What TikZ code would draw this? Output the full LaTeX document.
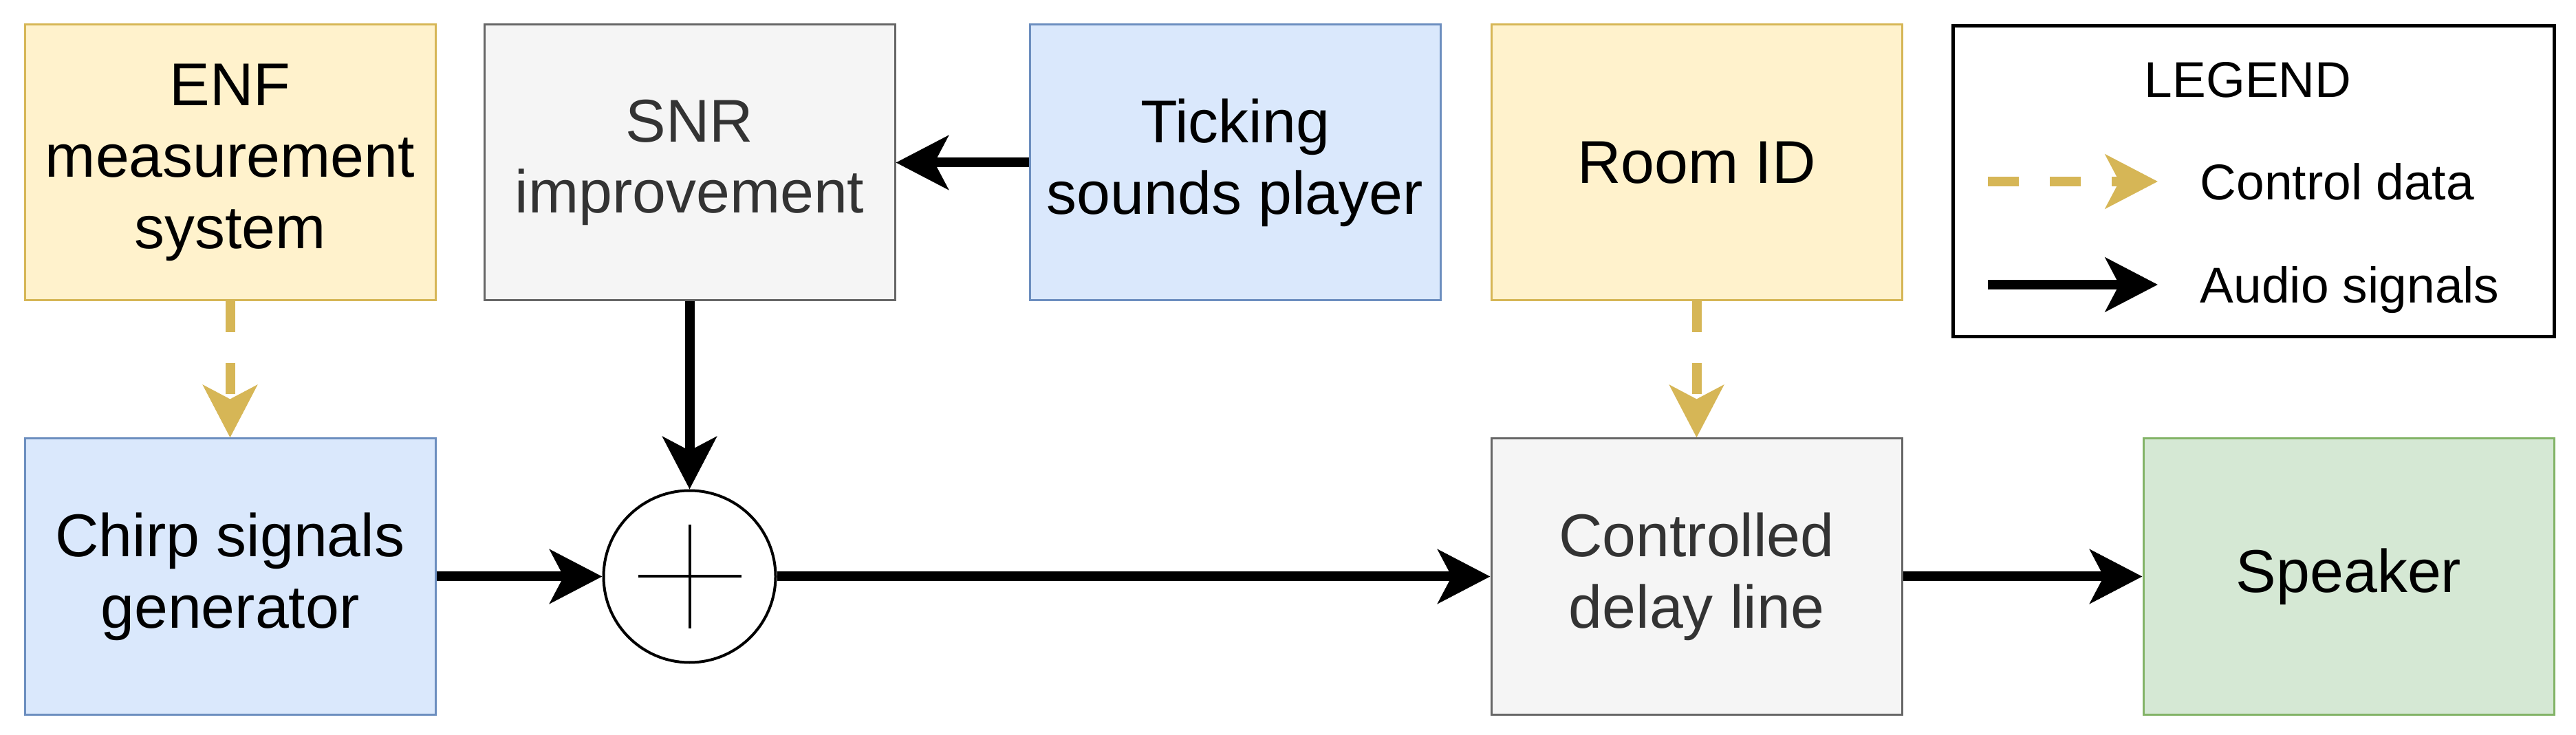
\documentclass[tikz,border=0pt]{standalone}
\usepackage{fontspec}
\setmainfont{Liberation Sans}
\usetikzlibrary{arrows.meta}
\definecolor{yelfill}{HTML}{FFF2CC}
\definecolor{yeldraw}{HTML}{D6B656}
\definecolor{bluefill}{HTML}{DAE8FC}
\definecolor{bluedraw}{HTML}{6C8EBF}
\definecolor{grayfill}{HTML}{F5F5F5}
\definecolor{graydraw}{HTML}{666666}
\definecolor{graytext}{HTML}{333333}
\definecolor{greenfill}{HTML}{D5E8D4}
\definecolor{greendraw}{HTML}{82B366}
\begin{document}
\begin{tikzpicture}[
  box/.style={draw, line width=0.03cm, minimum width=5.97cm, minimum height=4.01cm,
    align=center, inner sep=0pt, font=\fontsize{25}{29.5}\selectfont},
  ctrlbox/.style={box, fill=yelfill, draw=yeldraw},
  srcbox/.style={box, fill=bluefill, draw=bluedraw},
  procbox/.style={box, fill=grayfill, draw=graydraw, text=graytext},
  outbox/.style={box, fill=greenfill, draw=greendraw},
  audio/.style={line width=0.14cm, -{Stealth[length=0.76cm, width=0.78cm, inset=0.2cm]}},
  ctrl/.style={audio, color=yeldraw, dash pattern=on 0.45cm off 0.45cm},
  legtext/.style={inner sep=0pt, font=\fontsize{20.8}{24}\selectfont}
]
\useasboundingbox (0,0) rectangle (37.45,-10.69);
\node[ctrlbox] (enf) at (3.345,-2.365) {ENF\\measurement\\system};
\node[procbox] (snr) at (10.025,-2.365) {SNR\\improvement};
\node[srcbox] (tick) at (17.955,-2.365) {Ticking\\sounds player};
\node[ctrlbox] (room) at (24.665,-2.365) {Room ID};
\node[srcbox] (chirp) at (3.345,-8.385) {Chirp signals\\generator};
\node[draw, circle, line width=0.04cm, minimum size=2.5cm, inner sep=0pt] (sum) at (10.025,-8.385) {};
\node[procbox] (delay) at (24.665,-8.385) {Controlled\\delay line};
\node[outbox] (spk) at (34.145,-8.385) {Speaker};
\draw[line width=0.04cm] ([xshift=-0.75cm]sum.center) -- ([xshift=0.75cm]sum.center);
\draw[line width=0.04cm] ([yshift=-0.75cm]sum.center) -- ([yshift=0.75cm]sum.center);
\draw[ctrl] (enf) -- (chirp);
\draw[ctrl] (room) -- (delay);
\draw[audio] (tick) -- (snr);
\draw[audio] (snr) -- (sum);
\draw[audio] (chirp) -- (sum);
\draw[audio] (sum) -- (delay);
\draw[audio] (delay) -- (spk);
\node[draw, line width=0.05cm, minimum width=8.74cm, minimum height=4.52cm] (legend) at (32.76,-2.64) {};
\node[legtext, anchor=base] (legtitle) at (32.68,-1.42) {LEGEND};
\coordinate (ctrlA) at (28.9,-2.64);
\coordinate (ctrlB) at (31.37,-2.64);
\coordinate (audioA) at (28.9,-4.14);
\coordinate (audioB) at (31.37,-4.14);
\draw[ctrl] (ctrlA) -- (ctrlB);
\draw[audio] (audioA) -- (audioB);
\node[legtext, anchor=base west] (ctrllabel) at (31.98,-2.91) {Control data};
\node[legtext, anchor=base west] (audiolabel) at (31.98,-4.41) {Audio signals};
\end{tikzpicture}
\end{document}
